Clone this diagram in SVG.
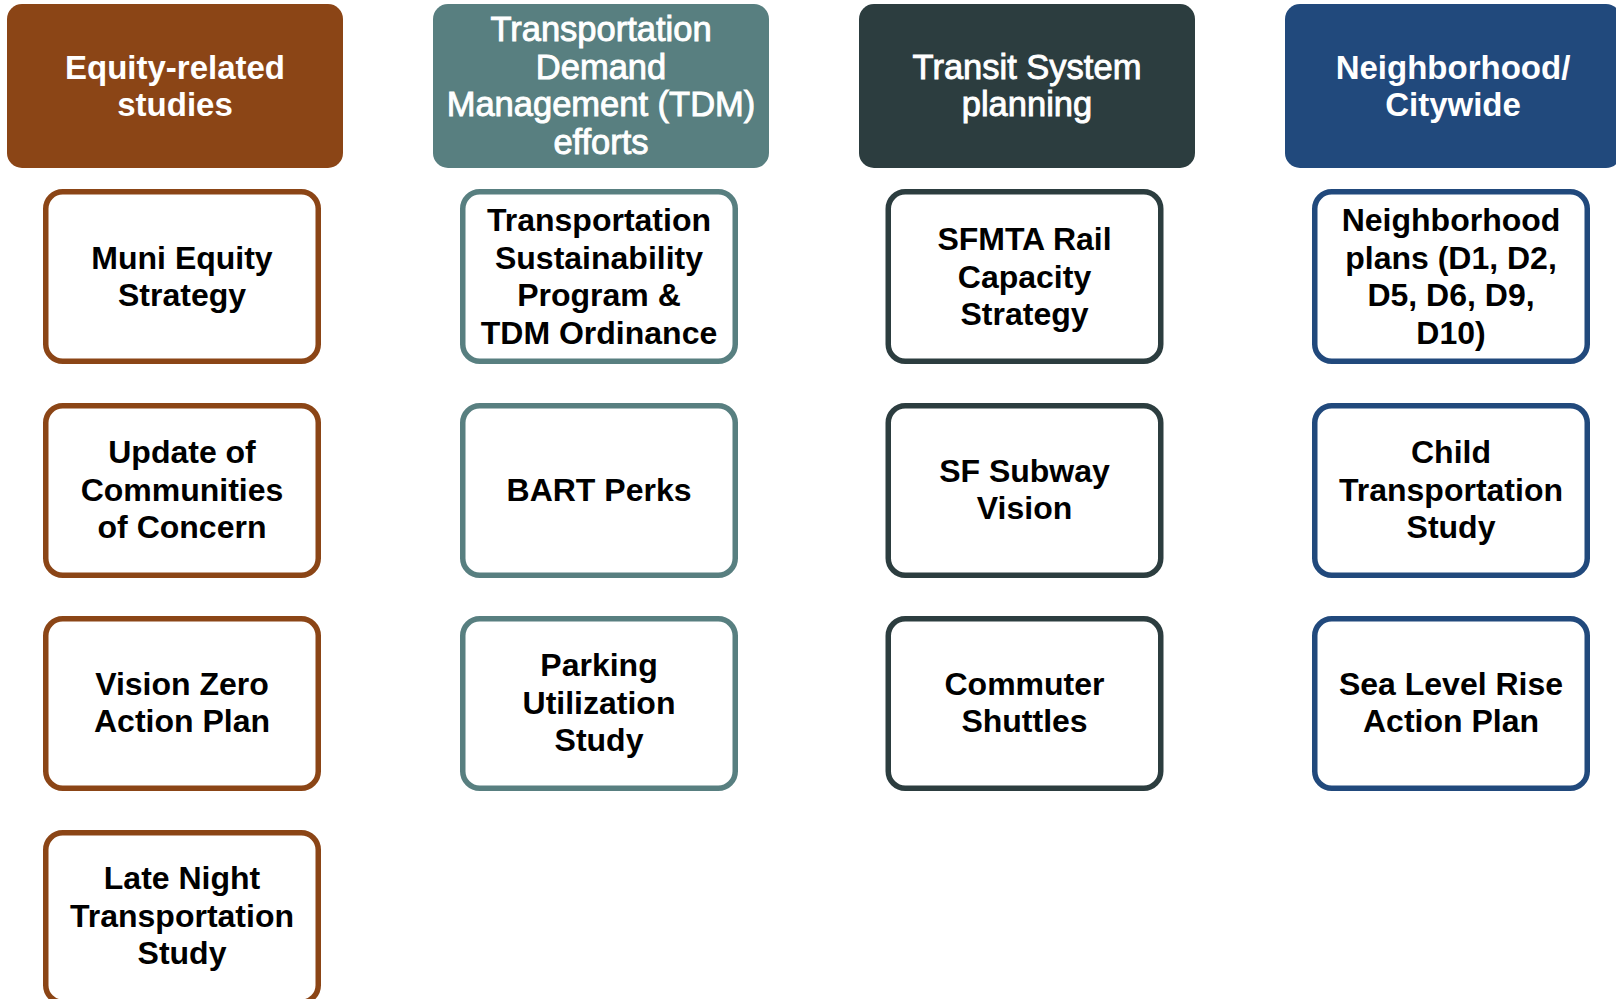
<svg xmlns="http://www.w3.org/2000/svg" width="1616" height="999" viewBox="0 0 1616 999">
<defs>
<style>
.hd{stroke:none}
.bx{fill:#ffffff;stroke-width:5.5}
.ht{font-family:"Liberation Sans",Arial,sans-serif;fill:#ffffff;text-anchor:middle}
.hb{font-weight:bold;font-size:33px}
.hn{font-weight:normal;font-size:34.5px;stroke:#ffffff;stroke-width:0.9}
.ct{font-family:"Liberation Sans",Arial,sans-serif;font-weight:bold;font-size:32px;fill:#000000;text-anchor:middle}
.c1{stroke:#8B4516}
.c2{stroke:#587F80}
.c3{stroke:#2C3D3F}
.c4{stroke:#21497C}
</style>
</defs>
<rect width="1616" height="999" fill="#ffffff"/>
<g id="connectors"></g>

<g id="h1"><rect class="hd" x="7" y="4" width="336" height="164" rx="15" fill="#8B4516"/>
<text class="ht hb"><tspan x="175" y="78.6">Equity-related</tspan><tspan x="175" dy="37.7">studies</tspan></text></g>
<g id="h2"><rect class="hd" x="433" y="4" width="336" height="164" rx="15" fill="#587F80"/>
<text class="ht hn"><tspan x="601" y="41">Transportation</tspan><tspan x="601" dy="37.7">Demand</tspan><tspan x="601" dy="37.7">Management (TDM)</tspan><tspan x="601" dy="37.7">efforts</tspan></text></g>
<g id="h3"><rect class="hd" x="859" y="4" width="336" height="164" rx="15" fill="#2C3D3F"/>
<text class="ht hn"><tspan x="1027" y="78.6">Transit System</tspan><tspan x="1027" dy="37.7">planning</tspan></text></g>
<g id="h4"><rect class="hd" x="1285" y="4" width="336" height="164" rx="15" fill="#21497C"/>
<text class="ht hb"><tspan x="1453" y="78.6">Neighborhood/</tspan><tspan x="1453" dy="37.7">Citywide</tspan></text></g>

<g id="n1a"><rect class="bx c1" x="45.75" y="191.75" width="272.5" height="169.5" rx="17"/>
<text class="ct"><tspan x="182" y="268.6">Muni Equity</tspan><tspan x="182" dy="37.7">Strategy</tspan></text></g>
<g id="n1b"><rect class="bx c1" x="45.75" y="405.75" width="272.5" height="169.5" rx="17"/>
<text class="ct"><tspan x="182" y="462.8">Update of</tspan><tspan x="182" dy="37.7">Communities</tspan><tspan x="182" dy="37.7">of Concern</tspan></text></g>
<g id="n1c"><rect class="bx c1" x="45.75" y="618.75" width="272.5" height="169.5" rx="17"/>
<text class="ct"><tspan x="182" y="694.7">Vision Zero</tspan><tspan x="182" dy="37.7">Action Plan</tspan></text></g>
<g id="n1d"><rect class="bx c1" x="45.75" y="832.75" width="272.5" height="169.5" rx="17"/>
<text class="ct"><tspan x="182" y="888.8">Late Night</tspan><tspan x="182" dy="37.7">Transportation</tspan><tspan x="182" dy="37.7">Study</tspan></text></g>

<g id="n2a"><rect class="bx c2" x="462.75" y="191.75" width="272.5" height="169.5" rx="17"/>
<text class="ct"><tspan x="599" y="231">Transportation</tspan><tspan x="599" dy="37.7">Sustainability</tspan><tspan x="599" dy="37.7">Program &amp;</tspan><tspan x="599" dy="37.7">TDM Ordinance</tspan></text></g>
<g id="n2b"><rect class="bx c2" x="462.75" y="405.75" width="272.5" height="169.5" rx="17"/>
<text class="ct"><tspan x="599" y="500.5">BART Perks</tspan></text></g>
<g id="n2c"><rect class="bx c2" x="462.75" y="618.75" width="272.5" height="169.5" rx="17"/>
<text class="ct"><tspan x="599" y="675.8">Parking</tspan><tspan x="599" dy="37.7">Utilization</tspan><tspan x="599" dy="37.7">Study</tspan></text></g>

<g id="n3a"><rect class="bx c3" x="888.25" y="191.75" width="272.5" height="169.5" rx="17"/>
<text class="ct"><tspan x="1024.5" y="249.8">SFMTA Rail</tspan><tspan x="1024.5" dy="37.7">Capacity</tspan><tspan x="1024.5" dy="37.7">Strategy</tspan></text></g>
<g id="n3b"><rect class="bx c3" x="888.25" y="405.75" width="272.5" height="169.5" rx="17"/>
<text class="ct"><tspan x="1024.5" y="481.7">SF Subway</tspan><tspan x="1024.5" dy="37.7">Vision</tspan></text></g>
<g id="n3c"><rect class="bx c3" x="888.25" y="618.75" width="272.5" height="169.5" rx="17"/>
<text class="ct"><tspan x="1024.5" y="694.7">Commuter</tspan><tspan x="1024.5" dy="37.7">Shuttles</tspan></text></g>

<g id="n4a"><rect class="bx c4" x="1314.75" y="191.75" width="272.5" height="169.5" rx="17"/>
<text class="ct"><tspan x="1451" y="231">Neighborhood</tspan><tspan x="1451" dy="37.7">plans (D1, D2,</tspan><tspan x="1451" dy="37.7">D5, D6, D9,</tspan><tspan x="1451" dy="37.7">D10)</tspan></text></g>
<g id="n4b"><rect class="bx c4" x="1314.75" y="405.75" width="272.5" height="169.5" rx="17"/>
<text class="ct"><tspan x="1451" y="462.8">Child</tspan><tspan x="1451" dy="37.7">Transportation</tspan><tspan x="1451" dy="37.7">Study</tspan></text></g>
<g id="n4c"><rect class="bx c4" x="1314.75" y="618.75" width="272.5" height="169.5" rx="17"/>
<text class="ct"><tspan x="1451" y="694.7">Sea Level Rise</tspan><tspan x="1451" dy="37.7">Action Plan</tspan></text></g>
</svg>
